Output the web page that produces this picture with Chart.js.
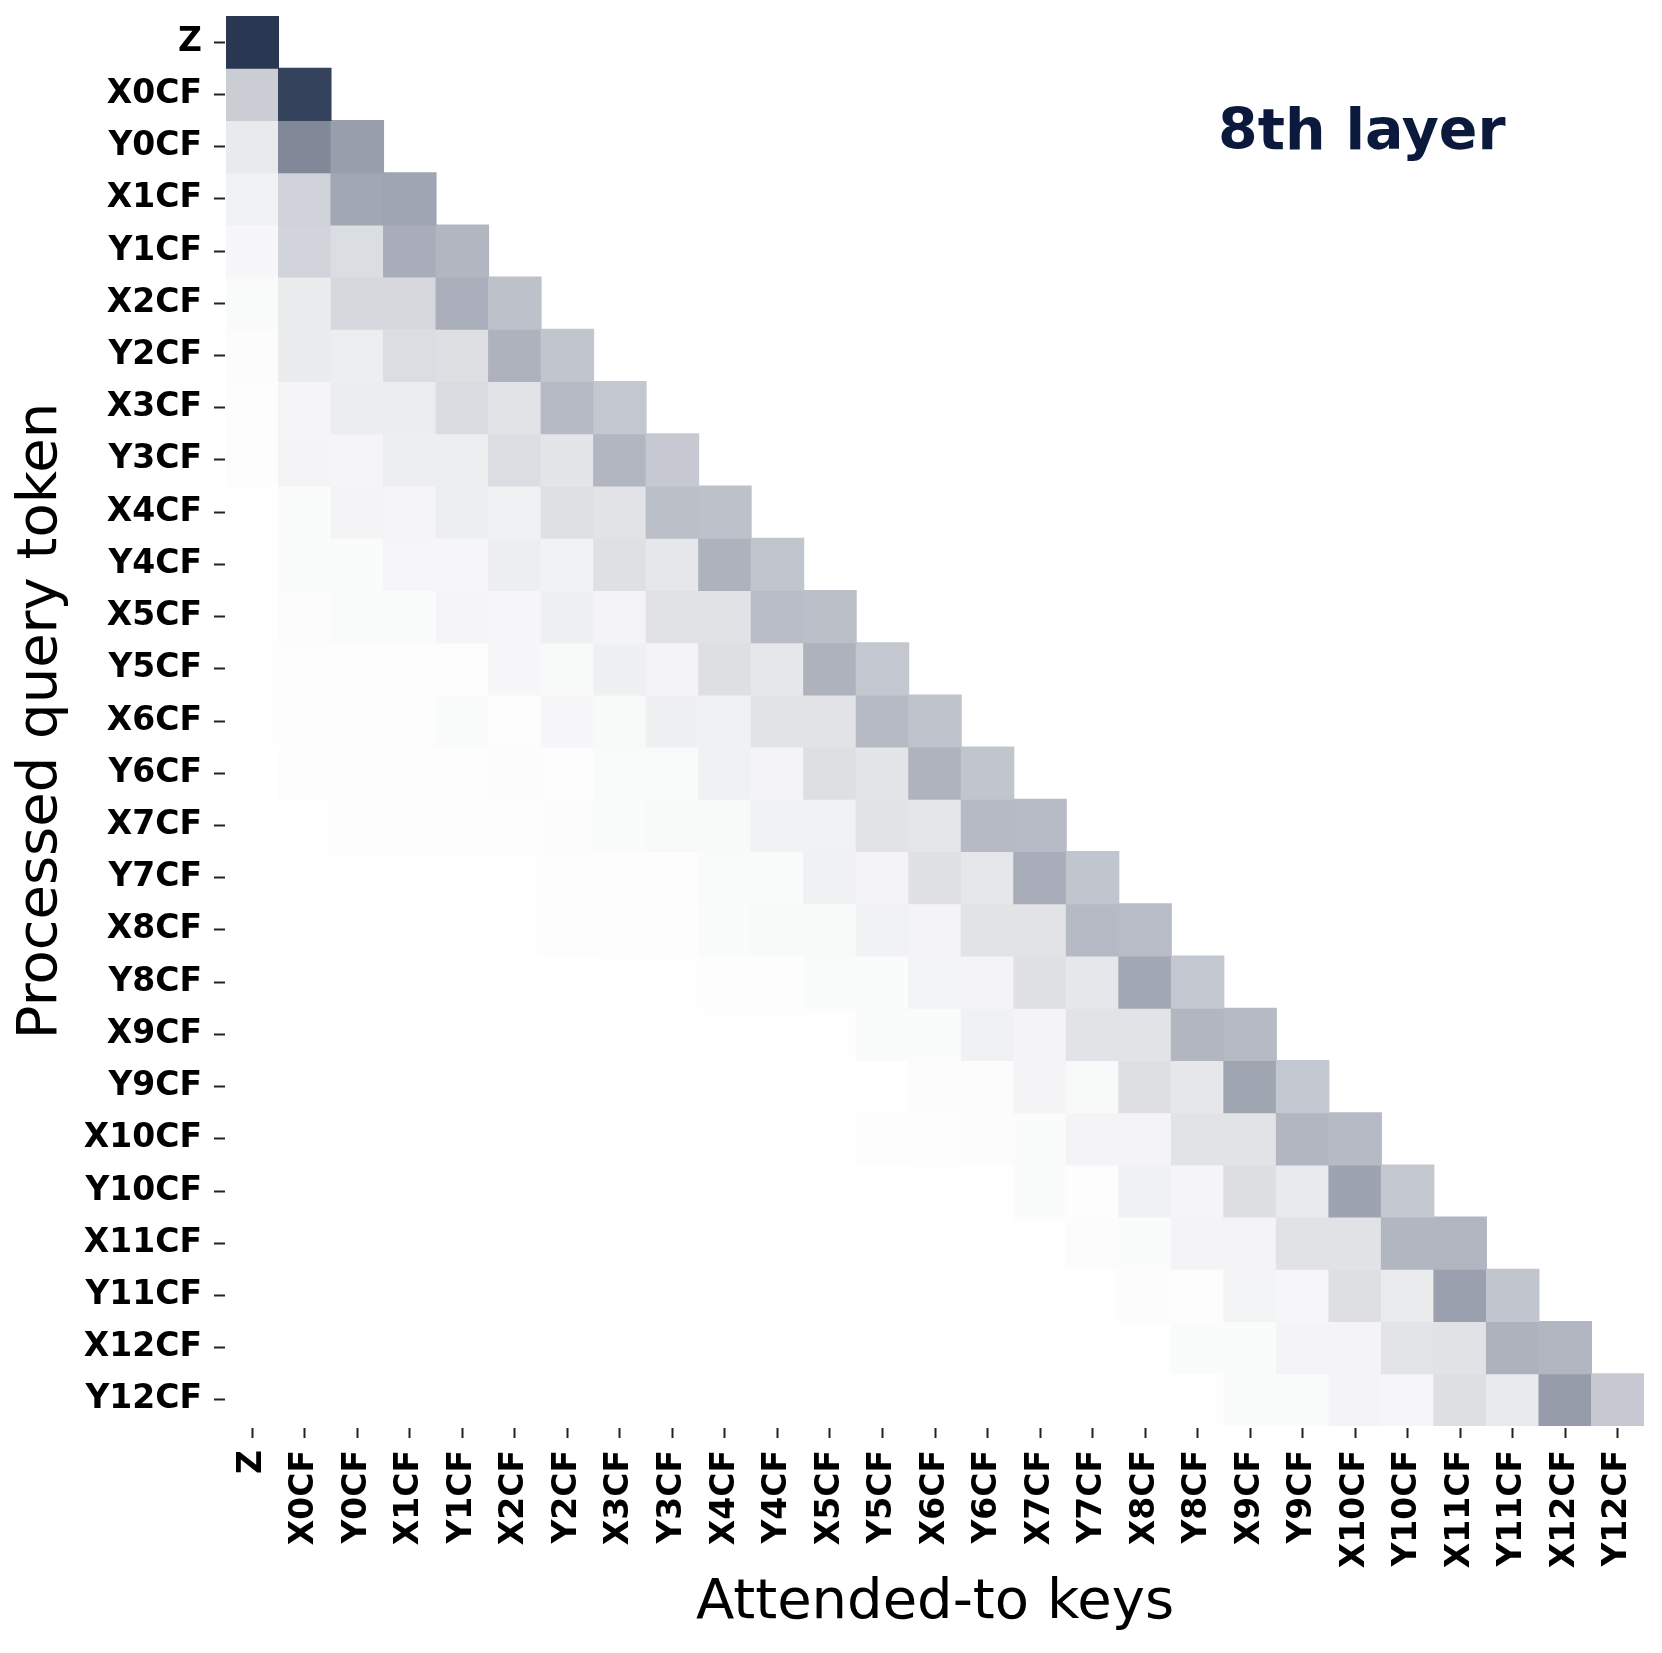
<!DOCTYPE html>
<html>
<head>
<meta charset="utf-8">
<script src="https://cdn.jsdelivr.net/npm/chart.js@4"></script>
<style>
  html, body { margin: 0; padding: 0; background: #fff; }
  canvas { display: block; }
</style>
</head>
<body>
<canvas id="attn-chart" width="1662" height="1653"></canvas>
<script>
const TOKENS = ["Z", "X0CF", "Y0CF", "X1CF", "Y1CF", "X2CF", "Y2CF", "X3CF", "Y3CF",
  "X4CF", "Y4CF", "X5CF", "Y5CF", "X6CF", "Y6CF", "X7CF", "Y7CF", "X8CF", "Y8CF",
  "X9CF", "Y9CF", "X10CF", "Y10CF", "X11CF", "Y11CF", "X12CF", "Y12CF"];

const LAYER = "8th layer";
const X_TITLE = "Attended-to keys";
const Y_TITLE = "Processed query token";

// attention weight per query row, keys 0..row (causal mask above the diagonal)
const ATTN = [
  [0.93],
  [0.23, 0.88],
  [0.10, 0.55, 0.45],
  [0.06, 0.21, 0.41, 0.42],
  [0.035, 0.20, 0.16, 0.38, 0.34],
  [0.025, 0.09, 0.18, 0.18, 0.37, 0.29],
  [0.015, 0.09, 0.08, 0.16, 0.15, 0.36, 0.27],
  [0.01, 0.045, 0.085, 0.085, 0.165, 0.13, 0.32, 0.26],
  [0.01, 0.05, 0.045, 0.08, 0.08, 0.16, 0.12, 0.34, 0.25],
  [0.005, 0.02, 0.05, 0.045, 0.08, 0.065, 0.145, 0.13, 0.30, 0.29],
  [0.005, 0.02, 0.02, 0.04, 0.04, 0.08, 0.06, 0.145, 0.11, 0.36, 0.27],
  [0.003, 0.015, 0.025, 0.02, 0.045, 0.04, 0.07, 0.05, 0.135, 0.135, 0.31, 0.30],
  [0.003, 0.01, 0.01, 0.01, 0.01, 0.035, 0.03, 0.07, 0.05, 0.15, 0.11, 0.36, 0.26],
  [0.003, 0.01, 0.008, 0.008, 0.02, 0.01, 0.035, 0.03, 0.07, 0.065, 0.13, 0.13, 0.32, 0.28],
  [0.002, 0.008, 0.008, 0.008, 0.008, 0.015, 0.01, 0.025, 0.025, 0.065, 0.05, 0.15, 0.12, 0.355, 0.27],
  [0.002, 0.003, 0.008, 0.008, 0.01, 0.008, 0.015, 0.02, 0.03, 0.03, 0.06, 0.06, 0.13, 0.115, 0.32, 0.315],
  [0.002, 0.003, 0.003, 0.003, 0.003, 0.003, 0.008, 0.01, 0.01, 0.025, 0.02, 0.065, 0.05, 0.14, 0.11, 0.38, 0.27],
  [0.002, 0.005, 0.005, 0.005, 0.005, 0.005, 0.01, 0.01, 0.01, 0.02, 0.03, 0.03, 0.06, 0.05, 0.13, 0.13, 0.32, 0.31],
  [0.001, 0.002, 0.002, 0.002, 0.002, 0.002, 0.002, 0.005, 0.005, 0.008, 0.008, 0.025, 0.02, 0.055, 0.05, 0.14, 0.11, 0.41, 0.26],
  [0.001, 0.001, 0.002, 0.002, 0.002, 0.002, 0.002, 0.003, 0.005, 0.003, 0.006, 0.006, 0.02, 0.02, 0.065, 0.05, 0.13, 0.13, 0.34, 0.32],
  [0.001, 0.001, 0.001, 0.001, 0.001, 0.001, 0.001, 0.002, 0.003, 0.005, 0.002, 0.005, 0.002, 0.015, 0.012, 0.05, 0.03, 0.15, 0.11, 0.42, 0.26],
  [0.001, 0.001, 0.001, 0.001, 0.001, 0.001, 0.001, 0.001, 0.001, 0.002, 0.006, 0.006, 0.01, 0.01, 0.015, 0.02, 0.05, 0.05, 0.13, 0.13, 0.34, 0.32],
  [0.001, 0.001, 0.001, 0.001, 0.001, 0.001, 0.001, 0.001, 0.001, 0.002, 0.002, 0.002, 0.002, 0.005, 0.005, 0.02, 0.01, 0.065, 0.045, 0.155, 0.10, 0.43, 0.26],
  [0.001, 0.001, 0.001, 0.001, 0.001, 0.001, 0.001, 0.001, 0.001, 0.002, 0.002, 0.002, 0.002, 0.002, 0.002, 0.005, 0.015, 0.02, 0.05, 0.05, 0.135, 0.135, 0.34, 0.345],
  [0.001, 0.001, 0.001, 0.001, 0.001, 0.001, 0.001, 0.001, 0.001, 0.002, 0.002, 0.002, 0.002, 0.002, 0.002, 0.003, 0.003, 0.012, 0.01, 0.055, 0.04, 0.15, 0.095, 0.44, 0.27],
  [0.001, 0.001, 0.001, 0.001, 0.001, 0.001, 0.001, 0.001, 0.001, 0.002, 0.002, 0.002, 0.002, 0.002, 0.002, 0.002, 0.002, 0.005, 0.02, 0.02, 0.05, 0.05, 0.125, 0.135, 0.36, 0.34],
  [0.001, 0.001, 0.001, 0.001, 0.001, 0.001, 0.001, 0.001, 0.001, 0.002, 0.002, 0.002, 0.002, 0.002, 0.002, 0.002, 0.002, 0.005, 0.006, 0.02, 0.02, 0.05, 0.04, 0.15, 0.10, 0.46, 0.25],
];

const NAVY = [26, 40, 70];
const FONT = '"DejaVu Sans", "Liberation Sans", sans-serif';

// white -> navy, like the seaborn colormap
function shade(v) {
  const c = NAVY.map((n) => Math.round(255 + (n - 255) * v));
  return `rgb(${c[0]}, ${c[1]}, ${c[2]})`;
}

// one floating-bar dataset per query row, spanning [row, row + 1] on y
const datasets = TOKENS.map((tok, r) => ({
  label: tok,
  data: TOKENS.map((_, c) => (c <= r ? [r, r + 1] : null)),
  backgroundColor: TOKENS.map((_, c) => (c <= r ? shade(ATTN[r][c]) : "rgba(0,0,0,0)")),
  borderWidth: 0,
  inflateAmount: 0.5,
  barPercentage: 1,
  categoryPercentage: 1,
  grouped: false,
}));

const layerTag = {
  id: "layerTag",
  afterDraw(chart) {
    const { ctx, chartArea: a } = chart;
    ctx.save();
    ctx.font = `bold 57px ${FONT}`;
    ctx.fillStyle = "#0b1a3c";
    ctx.textAlign = "center";
    ctx.textBaseline = "alphabetic";
    ctx.fillText(LAYER, a.left + a.width * 0.801, a.top + a.height * 0.0945);
    ctx.restore();
  },
};

const tickFont = { family: FONT, size: 33, weight: "bold" };
const titleFont = { family: FONT, size: 56, weight: "normal" };

// pin the plot box: no extra edge padding for half-labels
function noEdgePad(s) {
  s.paddingTop = 0;
  s.paddingBottom = 0;
  s.paddingLeft = 0;
  s.paddingRight = 0;
}

new Chart(document.getElementById("attn-chart"), {
  type: "bar",
  data: { labels: TOKENS, datasets },
  plugins: [layerTag],
  options: {
    responsive: false,
    animation: false,
    devicePixelRatio: 1,
    layout: { padding: { top: 16, right: 18, left: 0, bottom: 0 } },
    plugins: { legend: { display: false }, tooltip: { enabled: false } },
    scales: {
      x: {
        type: "category",
        offset: true,
        grid: { offset: false, drawOnChartArea: false, tickLength: 12, tickWidth: 2, tickColor: "#222" },
        border: { display: true, color: "rgba(0,0,0,0)", width: 3 },
        ticks: { color: "#000", font: tickFont, minRotation: 90, maxRotation: 90, autoSkip: false, padding: 12 },
        title: { display: true, text: X_TITLE, color: "#000", font: titleFont, padding: { top: 0, bottom: 16 } },
        afterFit: (s) => { s.height = 227; noEdgePad(s); },
      },
      y: {
        type: "linear",
        min: 0,
        max: TOKENS.length,
        reverse: true,
        grid: { drawOnChartArea: false, tickLength: 12, tickWidth: 2, tickColor: "#222" },
        border: { display: true, color: "rgba(0,0,0,0)", width: 3 },
        afterBuildTicks: (s) => { s.ticks = TOKENS.map((_, i) => ({ value: i + 0.5 })); },
        ticks: { color: "#000", font: tickFont, autoSkip: false, padding: 12, callback: (v, i) => TOKENS[i] },
        title: { display: true, text: Y_TITLE, color: "#000", font: titleFont, padding: { top: 8, bottom: 0 } },
        afterFit: (s) => { s.width = 226; noEdgePad(s); },
      },
    },
  },
});
</script>
</body>
</html>
